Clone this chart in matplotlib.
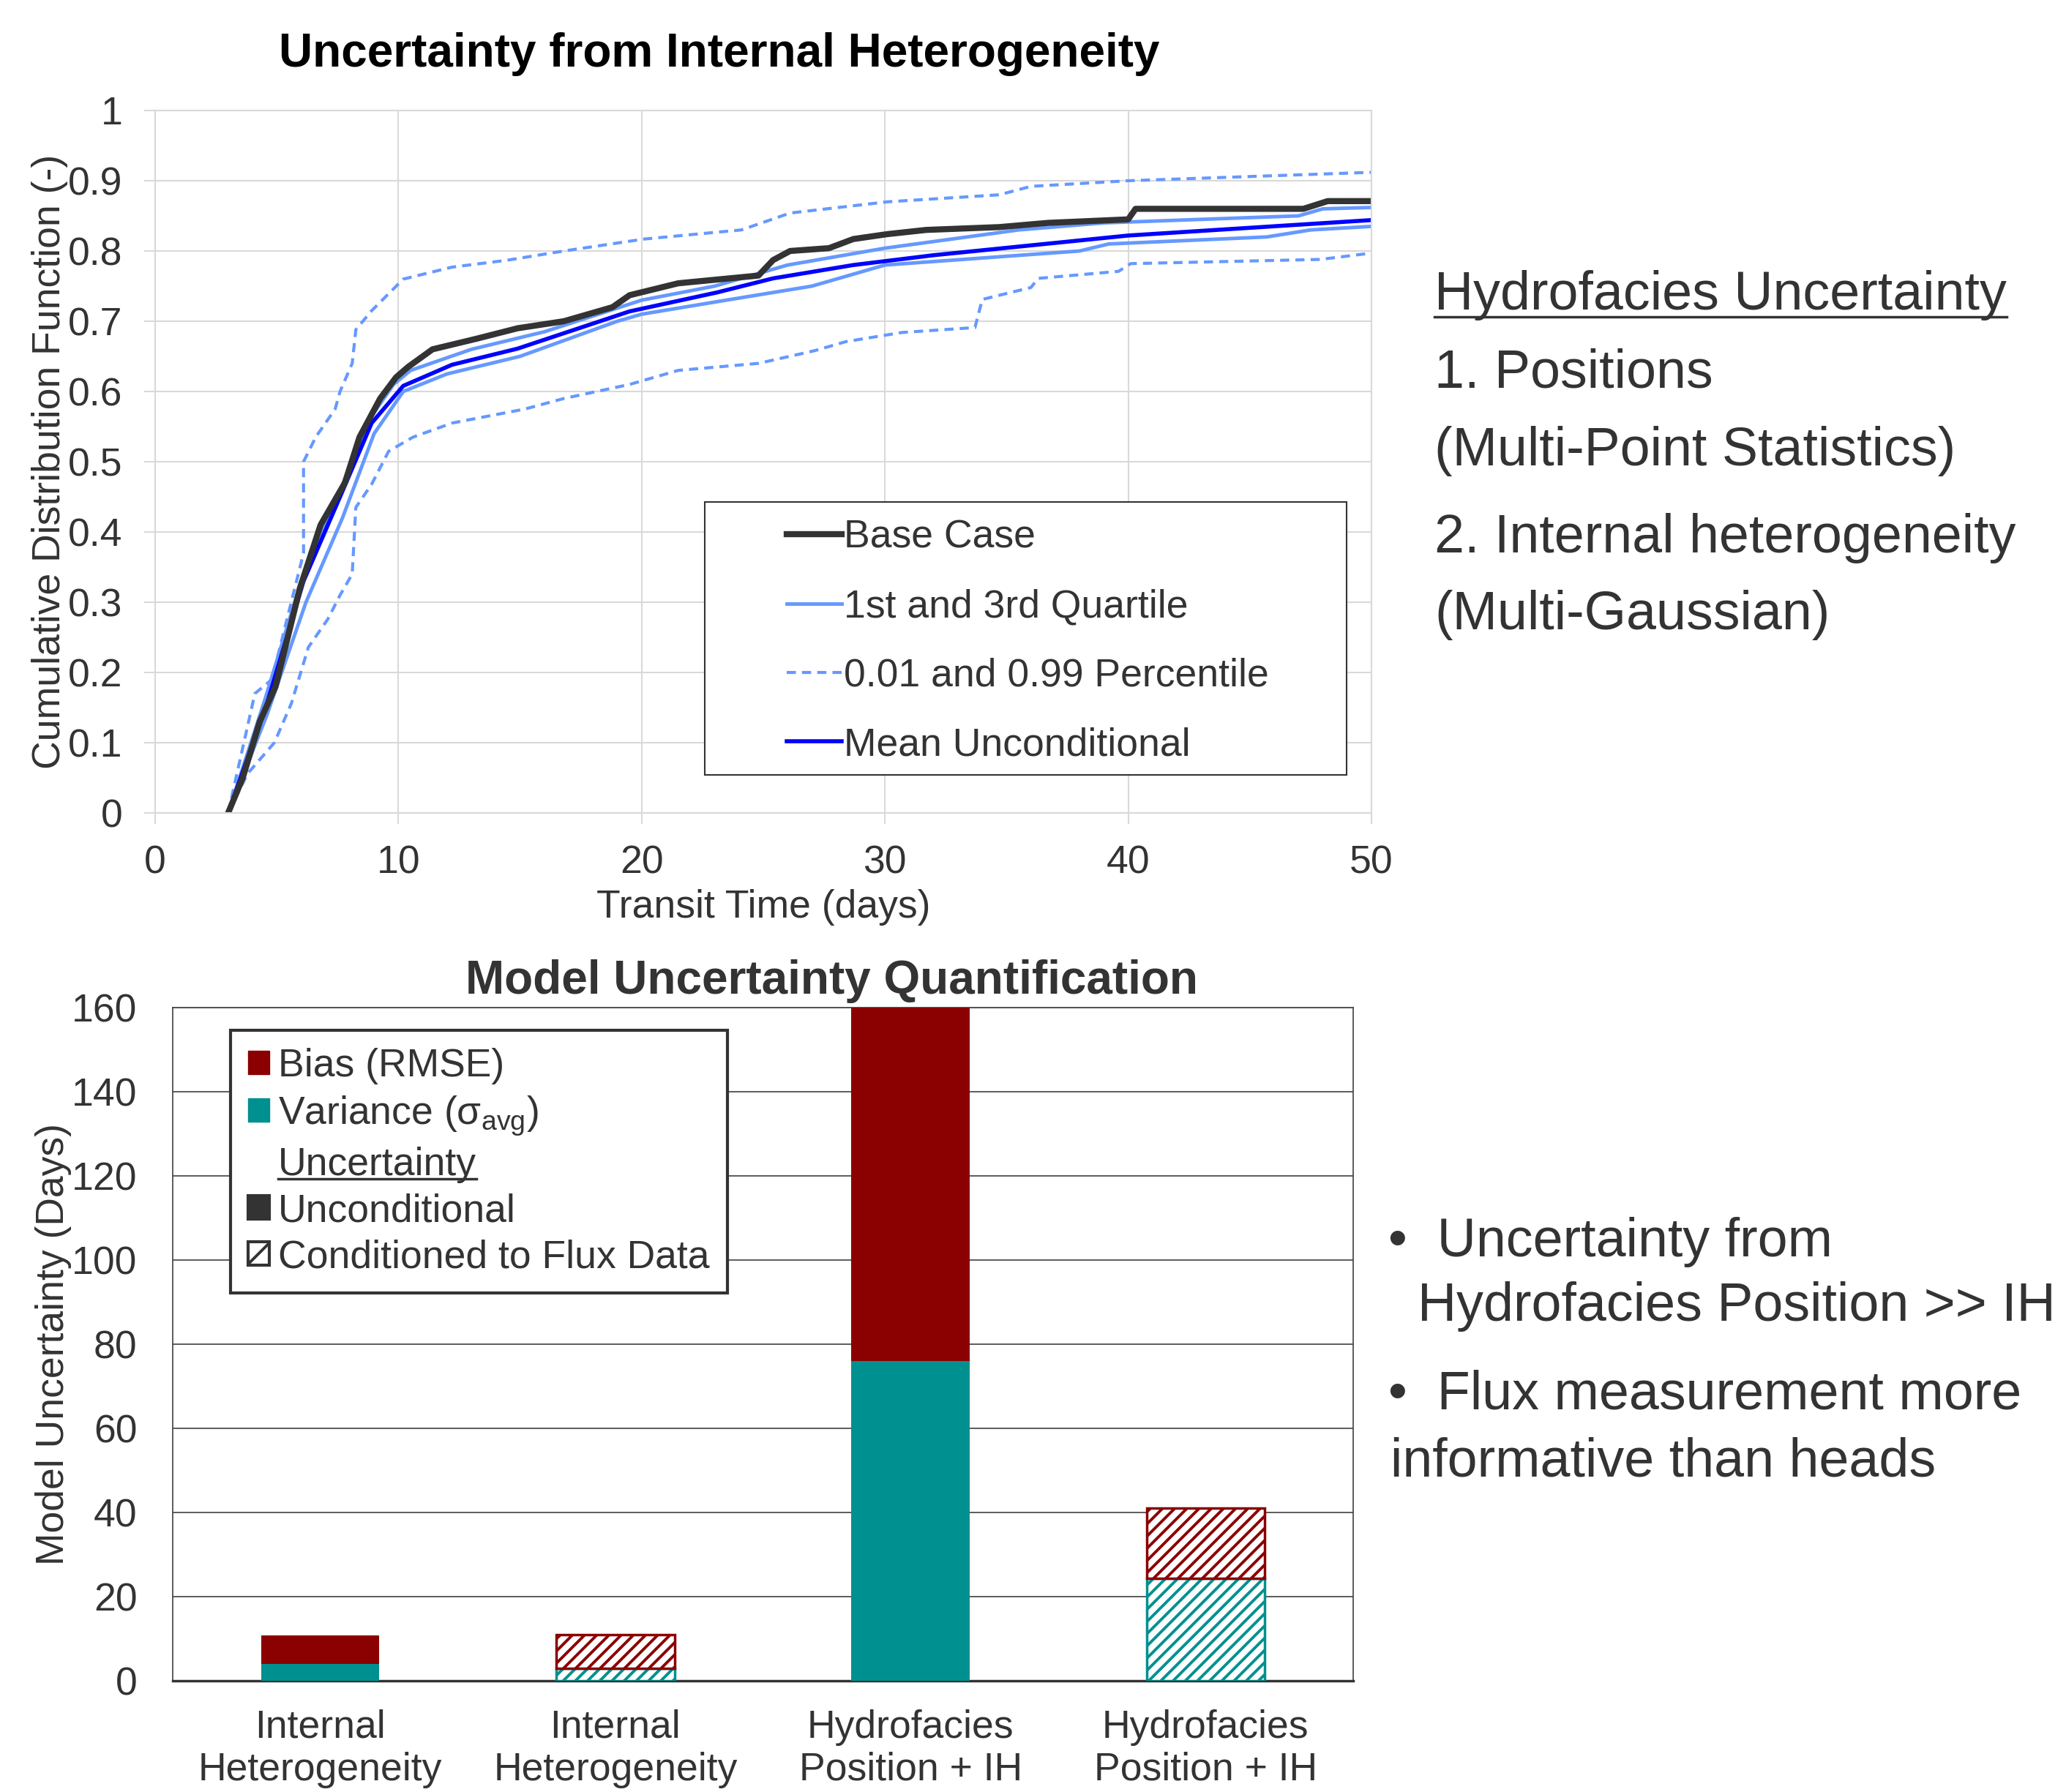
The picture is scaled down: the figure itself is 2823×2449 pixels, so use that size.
import matplotlib
matplotlib.use('Agg')
import matplotlib.pyplot as plt
from matplotlib.patches import Patch, Rectangle
from matplotlib.lines import Line2D
from matplotlib.ticker import FuncFormatter, MultipleLocator
from matplotlib.transforms import IdentityTransform

# ---- data: top chart (transit time in days, CDF) ----
base_t = [3.0, 3.6, 4.3, 4.95, 5.95, 6.8, 7.8, 8.4, 9.25, 9.9, 10.4, 11.4, 13.2, 14.9, 16.8,
          18.8, 19.5, 21.5, 24.8, 25.4, 26.1, 27.7, 28.7, 30.1, 31.7, 34.7, 36.7, 40.0, 40.3,
          47.2, 48.2, 50.0]
base_c = [0.0, 0.05, 0.13, 0.18, 0.32, 0.41, 0.47, 0.535, 0.59, 0.62, 0.635, 0.66, 0.675, 0.69, 0.70,
          0.72, 0.737, 0.754, 0.765, 0.787, 0.80, 0.804, 0.817, 0.824, 0.83, 0.834, 0.84, 0.845, 0.86,
          0.86, 0.871, 0.871]

q3_t = [3.0, 4.5, 6.0, 7.5, 8.8, 9.8, 10.5, 13.0, 16.0, 20.0, 23.0, 26.0, 30.0, 35.5, 39.0, 47.0, 48.0, 50.0]
q3_c = [0.0, 0.16, 0.33, 0.45, 0.56, 0.61, 0.63, 0.66, 0.685, 0.73, 0.75, 0.78, 0.804, 0.83, 0.84, 0.85, 0.86, 0.862]

q1_t = [3.0, 4.6, 6.2, 7.7, 9.0, 10.2, 12.0, 15.0, 19.0, 20.0, 23.3, 27.0, 30.0, 38.0, 39.2, 45.7, 47.5, 50.0]
q1_c = [0.0, 0.14, 0.30, 0.42, 0.54, 0.60, 0.625, 0.65, 0.70, 0.71, 0.729, 0.75, 0.78, 0.80, 0.81, 0.82, 0.83, 0.835]

p99_t = [3.0, 4.1, 4.8, 6.1, 6.1, 6.6, 7.4, 7.6, 8.1, 8.25, 8.9, 10.2, 12.2, 14.5, 16.8, 20.1, 24.1,
         26.1, 30.1, 34.7, 36.0, 40.0, 50.0]
p99_c = [0.0, 0.17, 0.19, 0.37, 0.50, 0.535, 0.575, 0.60, 0.64, 0.688, 0.715, 0.76, 0.777, 0.787, 0.80,
         0.817, 0.83, 0.854, 0.87, 0.88, 0.892, 0.90, 0.912]

p01_t = [3.0, 3.8, 4.9, 5.6, 6.3, 7.1, 7.6, 8.1, 8.25, 8.9, 9.6, 10.6, 12.2, 15.2, 16.8, 19.5, 21.5,
         24.8, 27.1, 28.4, 30.7, 33.7, 34.0, 36.0, 36.3, 39.6, 40.1, 47.9, 50.0]
p01_c = [0.0, 0.056, 0.10, 0.156, 0.236, 0.276, 0.31, 0.34, 0.435, 0.468, 0.515, 0.535, 0.555, 0.575,
         0.59, 0.61, 0.63, 0.64, 0.658, 0.671, 0.684, 0.691, 0.731, 0.748, 0.761, 0.771, 0.782, 0.788, 0.797]

mean_t = [3.0, 4.6, 6.1, 7.6, 8.9, 10.2, 12.2, 14.9, 19.5, 23.1, 25.4, 28.7, 32.0, 40.0, 50.0]
mean_c = [0.0, 0.156, 0.33, 0.45, 0.555, 0.608, 0.638, 0.661, 0.714, 0.741, 0.761, 0.78, 0.794, 0.822, 0.844]

# ---- data: bottom chart (days) ----
categories = ['Internal\nHeterogeneity', 'Internal\nHeterogeneity',
              'Hydrofacies\nPosition + IH', 'Hydrofacies\nPosition + IH']
variance = [4.0, 3.0, 76.0, 24.3]
bias = [6.7, 8.0, 84.0, 16.7]
conditioned = [False, True, False, True]

W, H = 2823, 2449
TXT = '#333333'
RED = '#8B0000'
TEAL = '#009090'
LBLUE = '#6699FF'
GRID = '#d9d9d9'
FS = 38.5

plt.rcParams['font.family'] = ['Liberation Sans', 'DejaVu Sans']
plt.rcParams['mathtext.fontset'] = 'custom'
plt.rcParams['mathtext.rm'] = 'Liberation Sans'
plt.rcParams['mathtext.it'] = 'Liberation Sans:italic'
plt.rcParams['hatch.linewidth'] = 2.8


def fx(px):
    return px / W


def fy(py):
    return 1 - py / H


fig = plt.figure(figsize=(W / 100, H / 100), dpi=100)

# ================= top chart =================
ax1 = fig.add_axes([fx(212), fy(1111), (1874 - 212) / W, (1111 - 151) / H])
ax1.plot(p99_t, p99_c, color=LBLUE, lw=3, dashes=(3, 2), label='0.01 and 0.99 Percentile')
ax1.plot(p01_t, p01_c, color=LBLUE, lw=3, dashes=(3, 2))
ax1.plot(q3_t, q3_c, color=LBLUE, lw=3.5, label='1st and 3rd Quartile')
ax1.plot(q1_t, q1_c, color=LBLUE, lw=3.5)
ax1.plot(mean_t, mean_c, color='#0000FF', lw=4, label='Mean Unconditional')
ax1.plot(base_t, base_c, color=TXT, lw=6, label='Base Case')

ax1.set_xlim(0, 50)
ax1.set_ylim(0, 1)
ax1.xaxis.set_major_locator(MultipleLocator(10))
ax1.yaxis.set_major_locator(MultipleLocator(0.1))
ax1.yaxis.set_major_formatter(FuncFormatter(lambda v, p: f'{v:g}'))
ax1.grid(True, color=GRID, lw=1.5)
ax1.set_axisbelow(True)
for s in ax1.spines.values():
    s.set_color(GRID)
    s.set_linewidth(1.5)
ax1.tick_params(axis='both', color=GRID, width=1.5, length=11, labelsize=FS, labelcolor=TXT)
ax1.tick_params(axis='x', pad=20)
ax1.tick_params(axis='y', pad=21)
ax1.set_xlabel('Transit Time (days)', fontsize=FS, color=TXT)
ax1.set_ylabel('Cumulative Distribution Function (-)', fontsize=FS, color=TXT)
ax1.xaxis.set_label_coords(0.5, -0.108)
ax1.yaxis.set_label_coords(-0.0716, 0.5)

fig.text(fx(983), fy(74), 'Uncertainty from Internal Heterogeneity', ha='center', va='center',
         fontsize=46, fontweight='bold', color='black')

h, l = ax1.get_legend_handles_labels()
order = [3, 1, 0, 2]
box = Rectangle((fx(963), fy(1059)), 877 / W, 373 / H, transform=fig.transFigure,
                facecolor='white', edgecolor=TXT, lw=1.5, zorder=5, clip_on=False)
ax1.add_patch(box)
leg1 = ax1.legend([h[i] for i in order], [l[i] for i in order], loc='upper left',
                  bbox_to_anchor=(fx(1075), fy(710)), bbox_transform=fig.transFigure,
                  borderaxespad=0, borderpad=0, frameon=False, fontsize=FS, labelcolor=TXT,
                  handlelength=1.4, handletextpad=0.05, labelspacing=0.83)
leg1.set_zorder(6)

# ================= bottom chart =================
ax2 = fig.add_axes([fx(236), fy(2297), (1849 - 236) / W, (2297 - 1377) / H])
x = list(range(len(categories)))
for i in x:
    if conditioned[i]:
        ax2.bar(i, variance[i], 0.4, facecolor='white', edgecolor=TEAL, hatch='//', lw=2.5, zorder=3)
        ax2.bar(i, bias[i], 0.4, bottom=variance[i], facecolor='white', edgecolor=RED,
                hatch='//', lw=2.5, zorder=3)
    else:
        ax2.bar(i, variance[i], 0.4, color=TEAL, lw=0, zorder=3)
        ax2.bar(i, bias[i], 0.4, bottom=variance[i], color=RED, lw=0, zorder=3)

ax2.set_xlim(-0.5, 3.5)
ax2.set_ylim(0, 160)
ax2.yaxis.set_major_locator(MultipleLocator(20))
ax2.set_xticks(x)
ax2.set_xticklabels(categories, linespacing=1.2)
ax2.yaxis.grid(True, color='#404040', lw=1.2)
ax2.set_axisbelow(True)
for s in ['left', 'top', 'right']:
    ax2.spines[s].set_color('#404040')
    ax2.spines[s].set_linewidth(1.2)
ax2.spines['bottom'].set_color(TXT)
ax2.spines['bottom'].set_linewidth(2.5)
ax2.tick_params(axis='both', length=0, labelsize=FS, labelcolor=TXT)
ax2.tick_params(axis='y', pad=35)
ax2.tick_params(axis='x', pad=28)
ax2.set_ylabel('Model Uncertainty (Days)', fontsize=FS, color=TXT)
ax2.yaxis.set_label_coords(-0.0856, 0.5)

fig.text(fx(1136), fy(1341), 'Model Uncertainty Quantification', ha='center', va='center',
         fontsize=46, fontweight='bold', color=TXT)

handles2 = [Patch(facecolor=RED, edgecolor=RED),
            Patch(facecolor=TEAL, edgecolor=TEAL),
            Patch(facecolor='none', edgecolor='none'),
            Patch(facecolor=TXT, edgecolor=TXT, lw=3, joinstyle='round'),
            Patch(facecolor='white', edgecolor=TXT, hatch='/', lw=3, joinstyle='round')]
labels2 = ['Bias (RMSE)', r'Variance (σ$_{\mathrm{avg}}$)', 'Uncertainty', 'Unconditional',
           'Conditioned to Flux Data']
leg2 = ax2.legend(handles2, labels2, loc='upper left', bbox_to_anchor=(fx(315), fy(1408)),
                  bbox_transform=fig.transFigure, borderaxespad=0, fontsize=FS, labelcolor=TXT,
                  frameon=True, fancybox=False, framealpha=1, edgecolor=TXT, borderpad=0.45,
                  handlelength=0.55, handleheight=0.55, handletextpad=0.22, labelspacing=0.24)
leg2.get_frame().set_linewidth(3)
leg2.set_zorder(6)

# ================= side notes =================
t_head = fig.text(fx(1960), fy(423), 'Hydrofacies Uncertainty', fontsize=53, color=TXT, va='baseline')
fig.text(fx(1960), fy(529), '1. Positions', fontsize=53, color=TXT, va='baseline')
fig.text(fx(1960), fy(636), '(Multi-Point Statistics)', fontsize=53, color=TXT, va='baseline')
fig.text(fx(1960), fy(755), '2. Internal heterogeneity', fontsize=53, color=TXT, va='baseline')
fig.text(fx(1960), fy(860), '(Multi-Gaussian)', fontsize=53, color=TXT, va='baseline')

fig.text(fx(1897), fy(1717), '•  Uncertainty from', fontsize=53, color=TXT, va='baseline')
fig.text(fx(1937), fy(1805), 'Hydrofacies Position >> IH', fontsize=53, color=TXT, va='baseline')
fig.text(fx(1897), fy(1926), '•  Flux measurement more', fontsize=53, color=TXT, va='baseline')
fig.text(fx(1900), fy(2017), 'informative than heads', fontsize=53, color=TXT, va='baseline')

# underlines
fig.canvas.draw()
r = fig.canvas.get_renderer()
bb = t_head.get_window_extent(r)
fig.add_artist(Line2D([bb.x0, bb.x1], [H - 433, H - 433], transform=IdentityTransform(),
                      color=TXT, lw=2.5))
bb = leg2.get_texts()[2].get_window_extent(r)
fig.add_artist(Line2D([bb.x0, bb.x1], [bb.y0 + 6, bb.y0 + 6], transform=IdentityTransform(),
                      color=TXT, lw=2.5, zorder=10))

fig.savefig('out.png', dpi=100)
